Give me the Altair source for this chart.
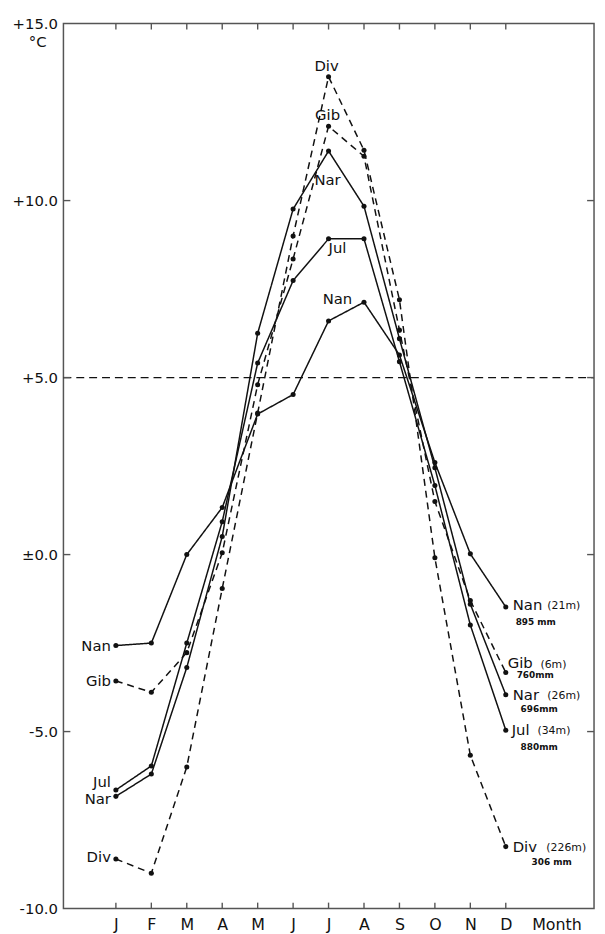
import altair as alt
import pandas as pd

FONT = "DejaVu Sans"
INK = "#111111"

months = list(range(1, 13))
month_labels = ["J", "F", "M", "A", "M", "J", "J", "A", "S", "O", "N", "D"]
month_axis_title_pos = 13.43
y_ticks = [-10, -5, 0, 5, 10, 15]
inner_y_ticks = [-5, 0, 5, 10]
threshold = 5

series_names = ["Nan", "Gib", "Nar", "Jul", "Div"]
series_style = ["solid", "dashed", "solid", "solid", "dashed"]
nan_vals = [-2.57, -2.50, 0.00, 1.33, 3.97, 4.52, 6.60, 7.13, 5.64, 2.60, 0.02, -1.48]
gib_vals = [-3.57, -3.89, -2.77, 0.05, 4.80, 8.35, 12.10, 11.25, 6.34, 1.50, -1.30, -3.33]
nar_vals = [-6.83, -6.20, -3.19, 0.51, 6.25, 9.76, 11.40, 9.84, 6.10, 2.45, -1.40, -3.96]
jul_vals = [-6.65, -5.97, -2.50, 0.93, 5.41, 7.74, 8.92, 8.92, 5.45, 1.95, -1.99, -4.96]
div_vals = [-8.60, -9.00, -6.00, -0.96, 4.00, 9.00, 13.50, 11.42, 7.20, -0.09, -5.67, -8.25]
all_vals = [nan_vals, gib_vals, nar_vals, jul_vals, div_vals]
altitudes = ["(21m)", "(6m)", "(26m)", "(34m)", "(226m)"]
precip = ["895 mm", "760mm", "696mm", "880mm", "306 mm"]

rows = []
for name, style, vals in zip(series_names, series_style, all_vals):
    for m, v in zip(months, vals):
        rows.append({"series": name, "style": style, "month": m, "temp": v})
df = pd.DataFrame(rows)

W, H = 536, 894

month_expr = "[" + ",".join("'%s'" % s for s in month_labels) + "]"
x_enc = alt.X(
    "month:Q",
    scale=alt.Scale(domain=[-0.48, 14.49], nice=False, zero=False),
    axis=alt.Axis(
        values=months + [month_axis_title_pos],
        labelExpr="datum.value > 12.5 ? 'Month' : %s[round(datum.value) - 1]" % month_expr,
        ticks=False, domain=False, grid=False, title=None,
        labelFont=FONT, labelFontSize=16, labelColor=INK, labelPadding=8,
        labelFlush=False, labelOverlap=False,
    ),
)
y_enc = alt.Y(
    "temp:Q",
    scale=alt.Scale(domain=[-10, 15], nice=False, zero=False),
    axis=alt.Axis(
        values=y_ticks,
        labelExpr="datum.value > 0 ? '+' + format(datum.value, '.1f') : (datum.value == 0 ? '\u00b10.0' : '-' + format(-datum.value, '.1f'))",
        ticks=False, domain=False, grid=False, title=None,
        labelFont=FONT, labelFontSize=15, labelColor=INK, labelPadding=6,
        labelFlush=False, labelOverlap=False,
    ),
)

lines = alt.Chart(df).mark_line(color=INK, strokeWidth=1.5).encode(
    x=x_enc, y=y_enc, detail="series:N",
    strokeDash=alt.StrokeDash("style:N", scale=alt.Scale(domain=["solid", "dashed"], range=[[1, 0], [7, 5]]), legend=None),
)
points = alt.Chart(df).mark_circle(color=INK, size=26, opacity=1).encode(x=x_enc, y=y_enc)

thr = alt.Chart(pd.DataFrame({"temp": [threshold]})).mark_rule(
    color=INK, strokeWidth=1.3, strokeDash=[8, 5]
).encode(y=y_enc, x=alt.value(0), x2=alt.value(W))

tick_col = "#555555"
ymonths = pd.DataFrame({"month": months})
yvals = pd.DataFrame({"temp": inner_y_ticks})
top_ticks = alt.Chart(ymonths).mark_rule(color=tick_col, strokeWidth=1.4).encode(x=x_enc, y=alt.value(0), y2=alt.value(6))
bot_ticks = alt.Chart(ymonths).mark_rule(color=tick_col, strokeWidth=1.4).encode(x=x_enc, y=alt.value(H - 6), y2=alt.value(H))
left_ticks = alt.Chart(yvals).mark_rule(color=tick_col, strokeWidth=1.4).encode(y=y_enc, x=alt.value(0), x2=alt.value(7))
right_ticks = alt.Chart(yvals).mark_rule(color=tick_col, strokeWidth=1.4).encode(y=y_enc, x=alt.value(W - 7), x2=alt.value(W))

unit = alt.Chart(pd.DataFrame({"temp": [15]})).mark_text(
    text="\u00b0C", font=FONT, fontSize=15, color=INK, align="center", baseline="middle", dy=19
).encode(y=y_enc, x=alt.value(-26))

layers = [thr, top_ticks, bot_ticks, left_ticks, right_ticks, lines, points, unit]


def label(text, month, temp, dx, dy, align="left", size=15, weight="normal"):
    return alt.Chart(pd.DataFrame({"month": [month], "temp": [temp], "t": [text]})).mark_text(
        font=FONT, fontSize=size, fontWeight=weight, color=INK, align=align, baseline="middle", dx=dx, dy=dy
    ).encode(x=x_enc, y=y_enc, text="t:N")


# left-hand labels (January)
left_dy = {"Nan": 0, "Gib": 0, "Nar": 3, "Jul": -8, "Div": -2}
for name, vals in zip(series_names, all_vals):
    layers.append(label(name, 1, vals[0], -5, left_dy[name], align="right"))

# labels at the July peak
peak_off = {"Div": (-2, -11), "Gib": (-1, -11), "Nar": (-1, 29), "Jul": (9, 9), "Nan": (9, -22)}
for name, vals in zip(series_names, all_vals):
    dx, dy = peak_off[name]
    layers.append(label(name, 7, vals[6], dx, dy, align="center"))

# right-hand labels (December)
name_off = {"Nan": (7, -2), "Gib": (2, -9), "Nar": (7, 0), "Jul": (6, 0), "Div": (7, 0)}
paren_dx = {"Nan": 42, "Gib": 35, "Nar": 42, "Jul": 32, "Div": 41}
mm_off = {"Nan": (10, 15), "Gib": (11, 3), "Nar": (15, 14), "Jul": (15, 17), "Div": (26, 16)}
for name, vals, alt_txt, mm in zip(series_names, all_vals, altitudes, precip):
    dx, dy = name_off[name]
    layers.append(label(name, 12, vals[11], dx, dy, size=15))
    layers.append(label(alt_txt, 12, vals[11], paren_dx[name], dy + 1, size=11))
    mdx, mdy = mm_off[name]
    layers.append(label(mm, 12, vals[11], mdx, mdy, size=9, weight="bold"))

chart = alt.layer(*layers).properties(
    width=W, height=H,
    autosize=alt.AutoSizeParams(type="none"),
    padding={"left": 56, "top": 11, "right": 3, "bottom": 26},
    background="white",
).configure_view(stroke="#555555", strokeWidth=1.5)

chart.save("out.html", embed_options={"renderer": "svg", "actions": False})
